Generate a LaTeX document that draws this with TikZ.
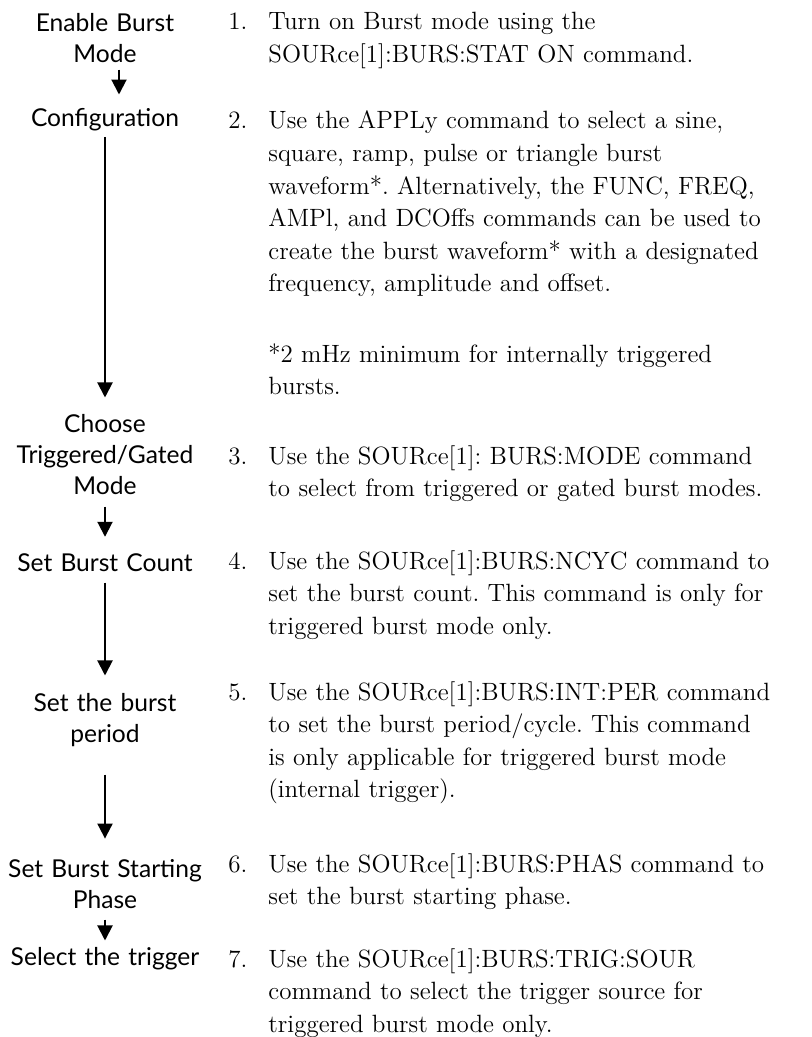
\documentclass[tikz,border=0pt]{standalone}
\usepackage{fontspec}
\newfontfamily\lblfont{Lato}
\usetikzlibrary{arrows.meta}
\frenchspacing

\begin{document}
\begin{tikzpicture}[x=0.5pt, y=-0.5pt,
    lbl/.style={font=\lblfont\fontsize{12.3}{15.5}\selectfont, text width=110pt,
      align=center, inner sep=0pt, anchor=base},
    num/.style={font=\fontsize{12.5}{16.3}\selectfont, inner sep=0pt, anchor=base west},
    txt/.style={font=\fontsize{12.5}{16.3}\selectfont, text width=290pt,
      align=left, inner sep=0pt, anchor=base west},
    flow/.style={-{Triangle[width=7.5pt, length=7.5pt]}, line width=1pt}]
    %% units are pixels of the 811 x 1037 page, y downwards
    \useasboundingbox (0,0) rectangle (811,1037);

    % ---- LEFT COLUMN: steps ----
    \node[lbl] (enable)  at (105, 32)  {Enable Burst\\Mode};
    \node[lbl] (config)  at (105, 127) {Configuration};
    \node[lbl] (choose)  at (105, 432) {Choose\\Triggered/Gated\\Mode};
    \node[lbl] (count)   at (105, 571) {Set Burst Count};
    \node[lbl] (period)  at (105, 711) {Set the burst\\period};
    \node[lbl] (phase)   at (105, 877) {Set Burst Starting\\Phase};
    \node[lbl] (trigger) at (105, 965) {Select the trigger};

    % arrows between steps
    \draw[flow, shorten <=3pt, shorten >=7pt]
      ([xshift=7pt]enable.south) -- ([xshift=7pt]config.north);
    \draw[flow, shorten <=2.5pt, shorten >=8pt] (config) -- (choose);
    \draw[flow, shorten <=6pt, shorten >=8pt] (choose) -- (count);
    \draw[flow, shorten <=5.5pt, shorten >=8.5pt] (count) -- (period);
    \draw[flow, shorten <=14pt, shorten >=10pt] (period) -- (phase);
    \draw[flow, shorten <=5.5pt, shorten >=3pt] (phase) -- (trigger);

    % ---- RIGHT COLUMN: numbered text ----
    \node[num] (n1) at (228, 30)  {1.};
    \node[txt] (t1) at (268, 30)
      {Turn on Burst mode using the\\SOURce[1]:BURS:STAT ON command.};
    \node[num] (n2) at (228, 129) {2.};
    \node[txt] (t2) at (268, 129)
      {Use the APPLy command to select a sine,\\square, ramp, pulse or triangle burst\\
       waveform*. Alternatively, the FUNC, FREQ,\\AMPl, and DCOffs commands can be used to\\
       create the burst waveform* with a designated\\frequency, amplitude and offset.};
    \node[txt] (note) at (268, 362)
      {*2 mHz minimum for internally triggered\\bursts.};
    \node[num] (n3) at (228, 464) {3.};
    \node[txt] (t3) at (268, 464)
      {Use the SOURce[1]: BURS:MODE command\\to select from triggered or gated burst modes.};
    \node[num] (n4) at (228, 569) {4.};
    \node[txt] (t4) at (268, 569)
      {Use the SOURce[1]:BURS:NCYC command to\\set the burst count. This command is only for\\
       triggered burst mode only.};
    \node[num] (n5) at (228, 700) {5.};
    \node[txt] (t5) at (268, 700)
      {Use the SOURce[1]:BURS:INT:PER command\\to set the burst period/cycle. This command\\
       is only applicable for triggered burst mode\\(internal trigger).};
    \node[num] (n6) at (228, 872) {6.};
    \node[txt] (t6) at (268, 872)
      {Use the SOURce[1]:BURS:PHAS command to\\set the burst starting phase.};
    \node[num] (n7) at (228, 967) {7.};
    \node[txt] (t7) at (268, 967)
      {Use the SOURce[1]:BURS:TRIG:SOUR\\command to select the trigger source for\\
       triggered burst mode only.};

\end{tikzpicture}
\end{document}
